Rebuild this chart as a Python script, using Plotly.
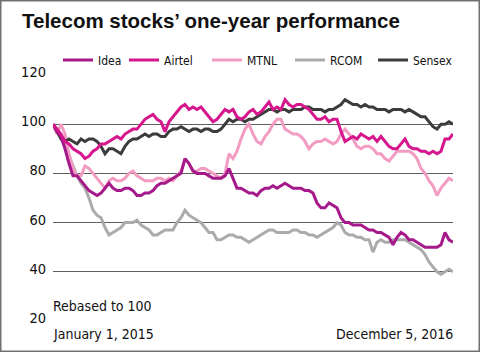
import pandas as pd
import plotly.graph_objects as go

# Weekly samples from Jan 1, 2015 to early Dec 2016 (rebased to 100)
dates = pd.date_range("2015-01-01", periods=101, freq="7D")

idea = [100, 97, 95, 90, 84, 79, 79, 77, 75, 73, 72, 71, 72, 74, 76, 74, 73, 73, 74, 74,
        73, 71, 71, 72, 72, 73, 75, 76, 76, 77, 78, 79, 80, 86, 84, 81, 80, 80, 80, 79,
        78, 78, 78, 79, 82, 78, 74, 74, 73, 72, 72, 71, 73, 74, 74, 75, 74, 75, 76, 75,
        74, 74, 74, 73, 73, 72, 68, 66, 66, 68, 67, 66, 62, 60, 60, 59, 59, 59, 58, 57,
        57, 56, 56, 55, 54, 51, 54, 56, 55, 53, 53, 52, 51, 50, 50, 50, 50, 51, 56, 53, 52]

airtel = [100, 98, 96, 93, 92, 90, 89, 88, 86, 87, 89, 90, 92, 92, 93, 94, 95, 94, 96, 97,
          98, 98, 100, 102, 103, 104, 102, 101, 97, 101, 103, 105, 107, 108, 106, 107, 106, 107, 105, 103,
          101, 102, 104, 106, 105, 106, 103, 102, 103, 105, 106, 104, 105, 107, 109, 106, 107, 106, 110, 108,
          107, 108, 108, 107, 106, 104, 102, 102, 103, 101, 102, 102, 97, 93, 94, 95, 94, 96, 95, 94,
          95, 93, 95, 93, 91, 90, 90, 92, 94, 91, 90, 90, 89, 89, 88, 89, 88, 89, 94, 94, 96]

mtnl = [100, 96, 100, 96, 88, 82, 79, 79, 83, 82, 80, 78, 76, 74, 77, 78, 77, 77, 78, 80,
        81, 79, 78, 77, 77, 77, 78, 78, 77, 78, 77, 79, 81, 86, 84, 81, 81, 82, 82, 81,
        80, 79, 78, 80, 88, 86, 89, 94, 98, 100, 96, 93, 92, 95, 97, 100, 102, 102, 98, 97,
        96, 96, 95, 93, 90, 92, 93, 93, 94, 93, 92, 93, 96, 98, 96, 94, 91, 90, 91, 91,
        90, 88, 88, 86, 85, 87, 89, 89, 89, 89, 88, 86, 82, 80, 77, 75, 71, 74, 76, 78, 77]

rcom = [100, 98, 94, 91, 87, 83, 79, 76, 74, 70, 65, 63, 62, 58, 55, 56, 57, 58, 60, 60,
        60, 61, 59, 58, 57, 55, 55, 56, 57, 57, 57, 60, 62, 65, 63, 62, 61, 60, 58, 56,
        56, 53, 53, 54, 55, 55, 54, 54, 53, 52, 53, 54, 55, 56, 57, 57, 56, 56, 56, 56,
        57, 57, 56, 56, 55, 55, 54, 55, 56, 57, 58, 60, 59, 56, 55, 55, 54, 54, 53, 53,
        48, 52, 53, 52, 52, 53, 53, 53, 53, 52, 51, 50, 49, 47, 44, 42, 40, 39, 40, 41, 40]

sensex = [100, 97, 94, 93, 94, 93, 92, 94, 93, 94, 94, 93, 91, 88, 90, 90, 89, 88, 91, 93,
          94, 94, 95, 96, 95, 96, 96, 95, 95, 97, 98, 98, 99, 98, 97, 98, 98, 97, 98, 98,
          97, 97, 98, 100, 102, 101, 102, 102, 101, 102, 102, 103, 104, 105, 106, 106, 105, 106, 106, 105,
          106, 106, 106, 107, 107, 106, 106, 106, 105, 106, 106, 107, 108, 110, 109, 108, 108, 107, 108, 107,
          107, 106, 106, 106, 105, 106, 106, 106, 105, 106, 105, 104, 103, 103, 101, 99, 98, 100, 100, 101, 100]

names = ["Idea", "Airtel", "MTNL", "RCOM", "Sensex"]
colors = {"Idea": "#A6198B", "Airtel": "#D6168C", "MTNL": "#F39CC3",
          "RCOM": "#ABABAB", "Sensex": "#3C3C3C"}
series = {"Idea": idea, "Airtel": airtel, "MTNL": mtnl, "RCOM": rcom, "Sensex": sensex}
yticks = [20, 40, 60, 80, 100, 120]

FONT = "Liberation Sans Narrow, DejaVu Sans Condensed, Arial Narrow, sans-serif"

W, H = 480, 352
L, R, T, B = 53, 27, 75, 31
PW, PH = W - L - R, H - T - B


def px_x(px):
    return (px - L) / PW


def px_y(py):
    return (H - B - py) / PH


legend_ids = {"Idea": "legend", "Airtel": "legend2", "MTNL": "legend3",
              "RCOM": "legend4", "Sensex": "legend5"}
legend_px = {"Idea": 58, "Airtel": 124, "MTNL": 207, "RCOM": 290, "Sensex": 373}

fig = go.Figure()
for n in ["RCOM", "MTNL", "Sensex", "Idea", "Airtel"]:
    fig.add_trace(go.Scatter(x=dates, y=series[n], mode="lines", name=n,
                             line=dict(color=colors[n], width=3),
                             legend=legend_ids[n], hoverinfo="skip"))

layout_legends = {}
for n in names:
    layout_legends[legend_ids[n]] = dict(
        x=px_x(legend_px[n]), y=px_y(60), xanchor="left", yanchor="middle",
        bgcolor="rgba(0,0,0,0)", borderwidth=0,
        font=dict(family=FONT, size=12, color="#111"), itemwidth=30)

fig.update_layout(
    width=W, height=H,
    margin=dict(l=L, r=R, t=T, b=B),
    paper_bgcolor="white", plot_bgcolor="white",
    showlegend=True,
    title=dict(text="Telecom stocks’ one-year performance",
               x=22 / W, xanchor="left", y=1 - 21 / H, yanchor="middle",
               font=dict(family="Liberation Sans, Arial, sans-serif", size=20.5, color="#111",
                         weight="bold")),
    xaxis=dict(range=[dates[0], dates[-1]], showgrid=False, zeroline=False,
               showticklabels=False, showline=False, ticks=""),
    yaxis=dict(range=[20, 120], tickvals=yticks, ticktext=[str(v) for v in yticks],
               showgrid=True, gridcolor="#5f5f5f", gridwidth=1.3, zeroline=False,
               showline=False, ticks="", ticklabelstandoff=6, ticklabelshift=-3,
               tickfont=dict(family=FONT, size=14.5, color="#111")),
    **layout_legends,
)

fig.add_annotation(text="Rebased to 100", xref="paper", yref="paper",
                   x=px_x(51), y=px_y(306), xanchor="left", yanchor="middle",
                   showarrow=False, font=dict(family=FONT, size=14, color="#111"))
fig.add_annotation(text="January 1, 2015", xref="paper", yref="paper",
                   x=px_x(51), y=px_y(334), xanchor="left", yanchor="middle",
                   showarrow=False, font=dict(family=FONT, size=14, color="#111"))
fig.add_annotation(text="December 5, 2016", xref="paper", yref="paper",
                   x=px_x(455), y=px_y(334), xanchor="right", yanchor="middle",
                   showarrow=False, font=dict(family=FONT, size=14, color="#111"))

fig.add_shape(type="rect", xref="paper", yref="paper",
              x0=px_x(0.75), x1=px_x(W - 0.75), y0=px_y(H - 0.75), y1=px_y(0.75),
              line=dict(color="#707070", width=1.5), fillcolor="rgba(0,0,0,0)", layer="above")

fig.write_html("out.html")
